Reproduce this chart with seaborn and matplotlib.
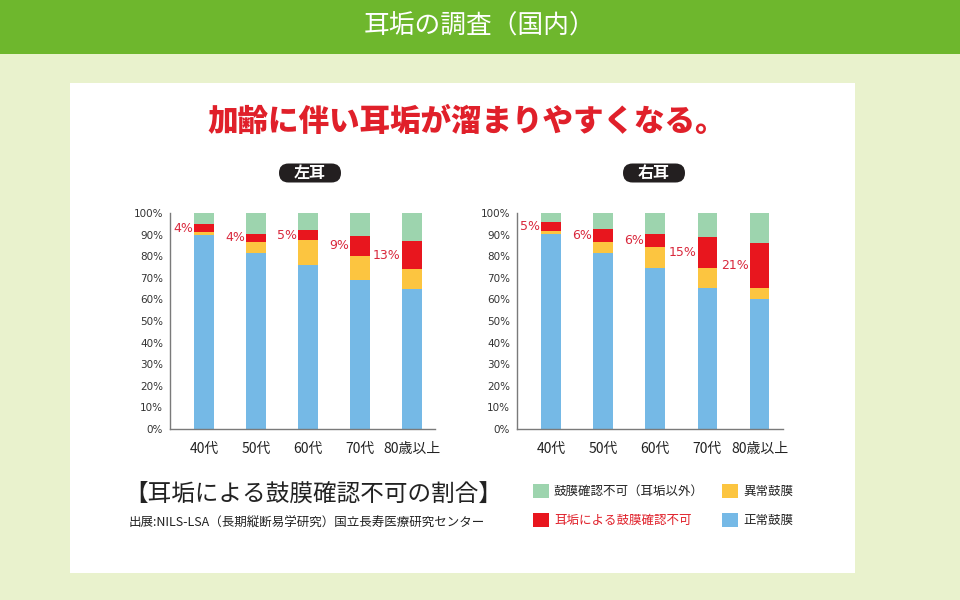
import numpy as np
import pandas as pd
import matplotlib
matplotlib.use('Agg')
import matplotlib.pyplot as plt
from matplotlib.patches import Rectangle, FancyBboxPatch
from matplotlib.transforms import IdentityTransform
import seaborn as sns

# data (% of respondents)
ages = ['40代', '50代', '60代', '70代', '80歳以上']

left_normal = [90, 81.5, 76, 69, 65]
left_abnormal = [1, 5, 11.5, 11.2, 9]
left_wax = [4, 4, 4.6, 9.3, 13]
left_other = [5, 9.5, 7.9, 10.5, 13]
left_labels = ['4%', '4%', '5%', '9%', '13%']

right_normal = [90.3, 81.5, 74.7, 65.1, 60]
right_abnormal = [1.2, 5.2, 9.6, 9.3, 5.4]
right_wax = [4.2, 6, 6, 14.6, 20.7]
right_other = [4.3, 7.3, 9.7, 11, 13.9]
right_labels = ['5%', '6%', '6%', '15%', '21%']

C_NORMAL = '#75b9e6'
C_ABNORMAL = '#fcc540'
C_WAX = '#e8161e'
C_OTHER = '#9dd4ae'
C_LABEL = '#d9283c'

sns.set_theme(style='white')
plt.rcParams['font.family'] = ['Noto Sans CJK JP', 'DejaVu Sans']

W, H = 960, 600
fig = plt.figure(figsize=(9.6, 6), dpi=100)
fig.patch.set_facecolor('#e9f2cd')


def fx(px):
    return px / W


def fy(py):
    return 1 - py / H


# header bar and white panel
fig.add_artist(Rectangle((0, fy(54)), 1, 54 / H, transform=fig.transFigure,
                         facecolor='#6eb72d', edgecolor='none', zorder=0))
fig.add_artist(Rectangle((fx(70), fy(573)), 785 / W, 490 / H, transform=fig.transFigure,
                         facecolor='white', edgecolor='none', zorder=0))

fig.text(0.5, fy(27), '耳垢の調査（国内）', color='white', fontsize=18.5,
         ha='center', va='center')
fig.text(fx(467), fy(121), '加齢に伴い耳垢が溜まりやすくなる。', color='#e0202a',
         fontsize=22, fontweight='heavy', ha='center', va='center')


def draw_panel(ax, normal, abnormal, wax, other, labels):
    normal = np.array(normal)
    abnormal = np.array(abnormal)
    wax = np.array(wax)
    other = np.array(other)
    layers = [
        (normal + abnormal + wax + other, C_OTHER),
        (normal + abnormal + wax, C_WAX),
        (normal + abnormal, C_ABNORMAL),
        (normal, C_NORMAL),
    ]
    width = 0.38
    for vals, col in layers:
        df = pd.DataFrame({'age': ages, 'value': vals})
        sns.barplot(data=df, x='age', y='value', order=ages, color=col,
                    saturation=1, width=width, linewidth=0, errorbar=None, ax=ax)
    for i, lab in enumerate(labels):
        ymid = normal[i] + abnormal[i] + wax[i] / 2
        ax.text(i - width / 2 - 0.02, ymid, lab, color=C_LABEL, fontsize=9,
                ha='right', va='center', family=['DejaVu Sans'])
    ax.set_xlim(-0.654, 4.45)
    ax.set_ylim(0, 100)
    ax.set_yticks(range(0, 101, 10))
    ax.set_yticklabels([f'{v}%' for v in range(0, 101, 10)], fontsize=7.5,
                       color='#333333', family=['DejaVu Sans'])
    ax.set_xticks(range(len(ages)))
    ax.set_xticklabels(ages, fontsize=10, color='#222222')
    ax.tick_params(axis='y', length=0, pad=5)
    ax.tick_params(axis='x', length=0, pad=9)
    ax.set_xlabel('')
    ax.set_ylabel('')
    ax.set_facecolor('none')
    for s in ['top', 'right']:
        ax.spines[s].set_visible(False)
    for s in ['left', 'bottom']:
        ax.spines[s].set_color('#7a7a7a')
        ax.spines[s].set_linewidth(1.0)


ax_l = fig.add_axes([fx(170), fy(429), 265 / W, 216 / H])
ax_r = fig.add_axes([fx(517), fy(429), 266 / W, 216 / H])
draw_panel(ax_l, left_normal, left_abnormal, left_wax, left_other, left_labels)
draw_panel(ax_r, right_normal, right_abnormal, right_wax, right_other, right_labels)

# ear tags (pill-shaped dark boxes, pixel coordinates)
for cx, txt in [(310, '左耳'), (654, '右耳')]:
    bw, bh = 62, 19
    r = bh / 2
    fig.add_artist(FancyBboxPatch((cx - bw / 2 + r, H - 173), bw - 2 * r, 0,
                                  boxstyle=f'round,pad={r},rounding_size={r}',
                                  transform=IdentityTransform(),
                                  facecolor='#231f20', edgecolor='none'))
    fig.text(fx(cx), fy(173), txt, color='white', fontsize=11.5, fontweight='bold',
             ha='center', va='center')

# bottom caption
fig.text(fx(124), fy(494), '【耳垢による鼓膜確認不可の割合】', color='#222222',
         fontsize=17, ha='left', va='center')
fig.text(fx(129), fy(523), '出展:NILS-LSA（長期縦断易学研究）国立長寿医療研究センター',
         color='#222222', fontsize=9, ha='left', va='center')

# legend
legend_items = [
    (533, 491, C_OTHER, '鼓膜確認不可（耳垢以外）', '#222222'),
    (722, 491, C_ABNORMAL, '異常鼓膜', '#222222'),
    (533, 520, C_WAX, '耳垢による鼓膜確認不可', '#e0202a'),
    (722, 520, C_NORMAL, '正常鼓膜', '#222222'),
]
for x0, yc, col, txt, tcol in legend_items:
    fig.add_artist(Rectangle((fx(x0), fy(yc + 7)), 16 / W, 14 / H,
                             transform=fig.transFigure, facecolor=col,
                             edgecolor='none'))
    fig.text(fx(x0 + 21), fy(yc), txt, color=tcol, fontsize=9,
             ha='left', va='center')

fig.savefig('out.png', dpi=100, facecolor=fig.get_facecolor())
plt.close(fig)
